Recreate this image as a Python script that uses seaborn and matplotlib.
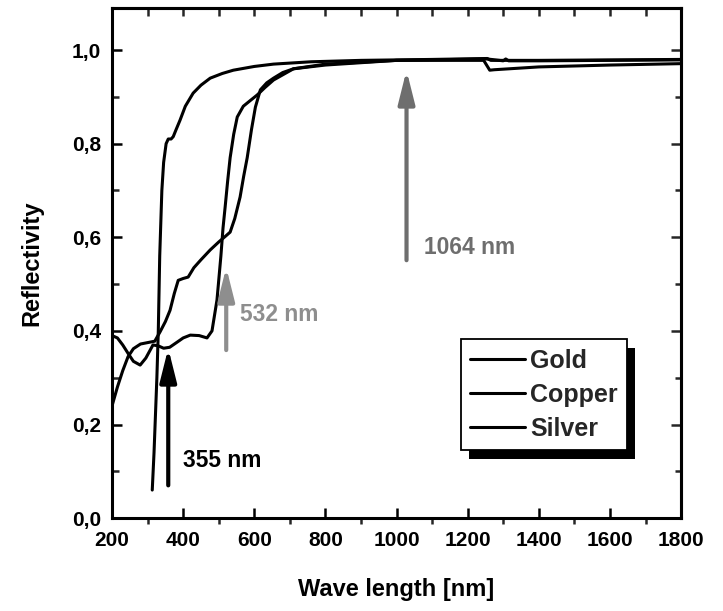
"""Reflectivity of gold, copper and silver vs wavelength, with laser lines marked."""

import matplotlib

matplotlib.use("Agg")
import matplotlib.pyplot as plt
import seaborn as sns
from matplotlib import font_manager
from matplotlib.patches import Rectangle
from matplotlib.ticker import FuncFormatter, MultipleLocator, NullFormatter

# values (nm, reflectivity)
wl_gold = [200, 215, 230, 245, 260, 279, 295, 315, 330, 345, 362, 383, 400, 420,
           445, 467, 481, 495, 499, 506, 512, 518, 525, 532, 542, 552, 569, 590,
           608, 630, 654, 710, 800, 1000, 1245, 1262, 1275, 1400, 1600, 1800]
r_gold = [0.39, 0.385, 0.37, 0.352, 0.335, 0.327, 0.342, 0.37, 0.368, 0.363, 0.365,
          0.376, 0.385, 0.391, 0.39, 0.385, 0.40, 0.466, 0.50, 0.56, 0.62, 0.665,
          0.72, 0.77, 0.82, 0.857, 0.88, 0.893, 0.904, 0.92, 0.936, 0.96, 0.97,
          0.978, 0.978, 0.957, 0.958, 0.964, 0.968, 0.971]

wl_copper = [200, 215, 230, 245, 260, 280, 300, 320, 335, 350, 363, 375, 386, 400,
             414, 430, 450, 476, 500, 520, 532, 545, 560, 570, 580, 592, 603, 617,
             635, 654, 680, 710, 800, 1000, 1255, 1300, 1307, 1315, 1400, 1600, 1800]
r_copper = [0.24, 0.28, 0.315, 0.345, 0.362, 0.372, 0.375, 0.378, 0.398, 0.42, 0.444,
            0.48, 0.508, 0.512, 0.515, 0.535, 0.552, 0.573, 0.59, 0.603, 0.611, 0.64,
            0.686, 0.73, 0.77, 0.83, 0.878, 0.915, 0.93, 0.94, 0.952, 0.96, 0.968,
            0.978, 0.981, 0.977, 0.981, 0.977, 0.977, 0.978, 0.979]

wl_silver = [313, 318, 322, 326, 330, 334, 337, 340, 345, 352, 358, 366, 372, 380,
             391, 406, 428, 450, 476, 510, 541, 600, 654, 760, 900, 1100, 1255,
             1265, 1400, 1600, 1800]
r_silver = [0.06, 0.14, 0.22, 0.30, 0.40, 0.56, 0.63, 0.70, 0.76, 0.80, 0.81, 0.81,
            0.815, 0.83, 0.85, 0.88, 0.908, 0.925, 0.94, 0.95, 0.957, 0.965, 0.97,
            0.975, 0.978, 0.98, 0.982, 0.978, 0.978, 0.979, 0.98]

metals = ["Gold", "Copper", "Silver"]

# laser lines: label, arrow x, arrow tail y, arrow tip y, colour
laser_labels = ["355 nm", "532 nm", "1064 nm"]
laser_x = [358, 521, 1028]
laser_tail = [0.07, 0.359, 0.551]
laser_tip = [0.363, 0.536, 0.957]
laser_text_x = [400, 560, 1076]
laser_text_y = [0.124, 0.434, 0.579]
laser_colors = ["#000000", "#8e8e8e", "#6e6e6e"]

sns.set_style("ticks")
available = {f.name for f in font_manager.fontManager.ttflist}
if "Liberation Sans Narrow" in available:
    plt.rcParams["font.family"] = ["Liberation Sans Narrow", "DejaVu Sans"]
    fs = 1.16
else:
    plt.rcParams["font.family"] = ["Liberation Sans", "DejaVu Sans"]
    fs = 1.0
plt.rcParams["font.weight"] = "bold"
plt.rcParams["axes.labelweight"] = "bold"

fig = plt.figure(figsize=(7.23, 6.11), dpi=100)
ax = fig.add_axes([0.155, 0.152, 0.787, 0.835])

for wl, r, name in zip([wl_gold, wl_copper, wl_silver], [r_gold, r_copper, r_silver], metals):
    sns.lineplot(x=wl, y=r, ax=ax, color="black", lw=2.2, label=name,
                 sort=False, estimator=None)

for lab, x, y0, y1, tx, ty, c in zip(laser_labels, laser_x, laser_tail, laser_tip,
                                     laser_text_x, laser_text_y, laser_colors):
    ax.annotate("", xy=(x, y1), xytext=(x, y0),
                arrowprops=dict(arrowstyle="-|>,head_length=1.0,head_width=0.25",
                                mutation_scale=20, lw=3.0, color=c,
                                shrinkA=0, shrinkB=0))
    ax.text(tx, ty, lab, color=c, fontsize=16.4 * fs, ha="left", va="center")

ax.set_xlim(200, 1800)
ax.set_ylim(0, 1.09)
ax.xaxis.set_major_locator(MultipleLocator(200))
ax.xaxis.set_minor_locator(MultipleLocator(100))
ax.yaxis.set_major_locator(MultipleLocator(0.2))
ax.yaxis.set_minor_locator(MultipleLocator(0.1))
ax.yaxis.set_major_formatter(FuncFormatter(lambda v, _: f"{v:.1f}".replace(".", ",")))

ax.tick_params(axis="x", which="major", direction="in", length=7, width=1.8,
               pad=9, labelsize=15 * fs, colors="black")
ax.tick_params(axis="x", which="minor", direction="out", length=4.5, width=1.8)
ax.tick_params(axis="y", which="major", direction="in", length=7, width=1.8,
               pad=8, labelsize=15 * fs, colors="black")
ax.tick_params(axis="y", which="minor", direction="in", length=5, width=1.8)
for s in ax.spines.values():
    s.set_linewidth(2.2)
    s.set_color("black")

top = ax.secondary_xaxis("top")
top.xaxis.set_major_locator(MultipleLocator(200))
top.xaxis.set_minor_locator(MultipleLocator(100))
top.xaxis.set_major_formatter(NullFormatter())
top.tick_params(which="both", direction="in", length=6, width=1.8)
top.spines["top"].set_linewidth(2.2)

right = ax.secondary_yaxis("right")
right.yaxis.set_major_locator(MultipleLocator(0.2))
right.yaxis.set_minor_locator(MultipleLocator(0.1))
right.yaxis.set_major_formatter(NullFormatter())
right.tick_params(which="major", direction="in", length=7, width=1.8)
right.tick_params(which="minor", direction="in", length=4, width=1.8)
right.spines["right"].set_linewidth(2.2)

ax.set_xlabel("Wave length [nm]", fontsize=17 * fs, color="black")
ax.set_ylabel("Reflectivity", fontsize=17 * fs, color="black")
ax.xaxis.set_label_coords(0.5, -0.118)
ax.yaxis.set_label_coords(-0.12, 0.5)

leg = ax.legend(loc="upper left", bbox_to_anchor=(0.613, 0.351), borderaxespad=0,
                fontsize=18 * fs, frameon=True, fancybox=False, framealpha=1,
                edgecolor="black", handlelength=2.2, handletextpad=0.2,
                borderpad=0.38, labelspacing=0.4)
leg.get_frame().set_linewidth(1.3)
for line in leg.get_lines():
    line.set_linewidth(2.2)

# solid black drop shadow behind the legend box
fig.canvas.draw()
bb = leg.get_window_extent().transformed(ax.transAxes.inverted())
dx, dy = 8 / (0.787 * 723), 9 / (0.835 * 611)
ax.add_patch(Rectangle((bb.x0 + dx, bb.y0 - dy), bb.width, bb.height,
                       transform=ax.transAxes, facecolor="black", edgecolor="none",
                       zorder=leg.get_zorder() - 0.1, clip_on=False))

fig.savefig("out.png", dpi=100)
